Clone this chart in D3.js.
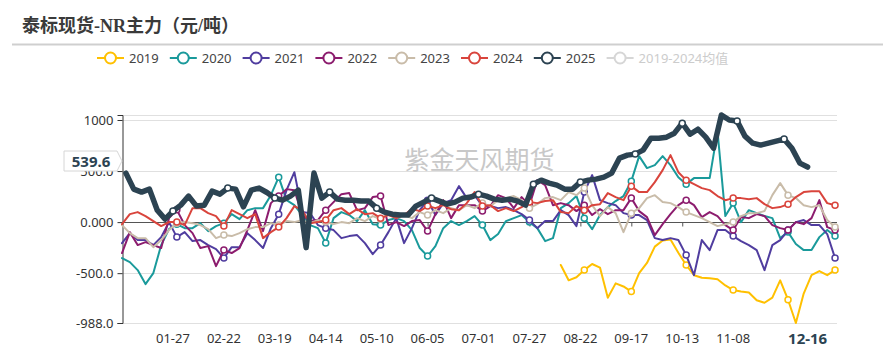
<!DOCTYPE html>
<html><head><meta charset="utf-8">
<script src="https://cdn.jsdelivr.net/npm/d3@7/dist/d3.min.js"></script>
<style>body{margin:0;background:#fff;} svg{display:block;}</style>
</head><body>
<svg id="chart" width="883" height="352"></svg>
<script>
(function(){
const title = "泰标现货-NR主力（元/吨）";
const watermark = "紫金天风期货";
const legendNames = ["2019","2020","2021","2022","2023","2024","2025","2019-2024均值"];
const colors = ["#ffc000","#1a9a9b","#503d9f","#8c1c6e","#c9bca9","#d9443c","#2c4352","#d6d6d6"];
const tickLabels = ["01-27","02-22","03-19","04-14","05-10","06-05","07-01","07-27","08-22","09-17","10-13","11-08"];
const yTickValues = [1000, 500, 0, -500, -988];
const yTickLabels = ["1000","500.0","0.000","-500.0","-988.0"];
const yMin = -988, yMax = 1049;
const pointerDate = "12-16", pointerValue = 539.6;
const step = 4;

const start2019 = "08-12";
const v2019 = [-420,-570,-540,-470,-410,-445,-740,-600,-630,-680,-500,-400,-240,-180,-170,-300,-420,-520,-545,-550,-560,-620,-665,-680,-690,-765,-790,-740,-570,-760,-988,-700,-520,-480,-520,-470];
const start2020 = "01-01";
const v2020 = [-352,-392,-470,-607,-499,-225,-69,-20,-59,-59,-10,-88,-39,-10,78,29,117,137,137,264,440,215,166,69,-29,-59,-205,39,98,69,10,117,-20,-29,20,39,10,-78,-254,-333,-235,-59,10,-29,10,59,-29,-176,-117,10,39,69,0,-59,-186,-157,137,186,255,39,-69,69,147,206,255,401,646,529,558,646,558,440,372,431,431,431,891,59,186,0,117,88,59,39,-157,-98,-215,-274,-274,-147,-78,-137];
const start2021 = "01-01";
const v2021 = [-206,-108,-176,-176,-225,-147,0,-147,-98,-186,-176,-225,-264,-352,-245,-245,-108,-176,-254,-59,78,313,489,98,88,-29,-59,-78,-157,-137,-127,-206,-313,-225,-98,39,-206,-59,117,215,69,186,215,352,235,264,157,157,137,147,117,78,20,-59,10,10,117,69,-39,294,460,215,186,166,88,69,69,20,-157,-176,-157,-176,-323,-519,-176,-274,-78,-78,-137,-186,-225,-274,-470,-225,-176,-78,0,20,-29,-29,-117,-352];
const start2022 = "01-01";
const v2022 = [-303,-98,-225,-196,-225,-254,39,120,-29,-108,-254,-235,-431,-274,-303,-254,-78,117,-88,186,255,323,313,69,10,20,117,196,274,284,117,137,245,255,-29,0,-39,10,20,-88,78,215,39,166,166,166,108,157,264,235,137,245,166,411,362,166,186,166,108,166,69,127,78,117,117,235,108,49,-127,-20,78,166,215,166,49,98,59,-29,-78,49,39,78,59,-29,-59,-78,0,-20,39,215,-49,-78];
const start2023 = "01-01";
const v2023 = [-29,-108,-157,-157,-245,-176,-78,-10,0,-10,-29,-69,-157,-127,-137,-108,-69,-49,-49,-10,-29,10,0,20,-10,20,0,-20,0,-10,39,10,59,29,78,39,69,39,98,69,117,88,137,117,166,137,186,157,215,235,255,215,137,176,235,245,215,294,264,333,166,59,147,88,-98,88,137,235,264,196,186,147,98,69,39,0,-39,-20,0,59,88,88,108,264,382,264,235,166,147,166,20,-49];
const start2024 = "01-01";
const v2024 = [-20,78,98,59,10,-39,0,0,-29,137,137,88,59,-39,117,78,39,78,-157,-98,-49,39,157,117,-10,0,20,117,137,78,127,78,88,39,69,39,69,127,108,157,137,166,127,117,186,294,157,166,108,137,108,147,196,186,206,215,98,88,157,117,166,176,284,245,215,352,294,294,392,509,656,489,411,372,333,313,255,215,235,235,225,235,176,137,147,176,245,294,303,303,186,166];
const start2025 = "01-03";
const v2025 = [480,323,294,323,117,29,108,166,255,157,166,303,274,333,323,150,313,333,290,235,215,255,313,-250,480,235,294,225,215,215,206,206,137,98,78,69,69,157,196,235,206,176,196,235,245,274,255,225,215,225,206,166,372,411,382,362,323,323,392,411,421,440,480,627,656,666,705,822,822,832,871,969,861,910,832,724,1049,1000,990,842,773,754,773,793,813,724,578,539.6];

const seriesList = [
  {name:"2019", start:start2019, values:v2019, color:colors[0], width:2},
  {name:"2020", start:start2020, values:v2020, color:colors[1], width:2},
  {name:"2021", start:start2021, values:v2021, color:colors[2], width:2},
  {name:"2022", start:start2022, values:v2022, color:colors[3], width:2},
  {name:"2023", start:start2023, values:v2023, color:colors[4], width:2},
  {name:"2024", start:start2024, values:v2024, color:colors[5], width:2},
  {name:"2025", start:start2025, values:v2025, color:colors[6], width:5.5}
];

// category axis: all month-day labels of a leap year
const fmt = d3.timeFormat("%m-%d");
const categories = d3.timeDay.range(new Date(2024,0,1), new Date(2025,0,1)).map(fmt);

const svg = d3.select("#chart");
const pLeft = 122, pRight = 837, pTop = 115, pBottom = 323;
const x = d3.scalePoint().domain(categories).range([pLeft, pRight]);
const y = d3.scaleLinear().domain([yMin, yMax]).range([pBottom, pTop]);

const font = "'Noto Sans','Noto Sans CJK SC',sans-serif";

// title
svg.append("text").attr("x", 22).attr("y", 32)
  .attr("font-family", "'Liberation Serif','Noto Sans CJK SC',serif")
  .attr("font-weight", "bold").attr("font-size", 18).attr("fill", "#3a3a3a")
  .text(title);
svg.append("line").attr("x1", 12).attr("x2", 883).attr("y1", 44.5).attr("y2", 44.5)
  .attr("stroke", "#cfcfcf").attr("stroke-width", 2);

// legend
const lg = svg.append("g");
legendNames.forEach((n, i) => {
  const gx = 97 + i * 72.8, gy = 58;
  const c = colors[i];
  const g = lg.append("g");
  g.append("line").attr("x1", gx).attr("x2", gx + 27).attr("y1", gy).attr("y2", gy)
    .attr("stroke", c).attr("stroke-width", 2);
  g.append("circle").attr("cx", gx + 13.5).attr("cy", gy).attr("r", 5.5)
    .attr("fill", "#fff").attr("stroke", c).attr("stroke-width", 2);
  g.append("text").attr("x", gx + 32).attr("y", gy + 4.5)
    .attr("font-family", font).attr("font-size", 13)
    .attr("fill", i === 7 ? "#cccccc" : "#444").text(n);
});

// grid
const grid = svg.append("g");
[yMax, ...yTickValues.filter(v => v !== 0)].forEach(v => {
  grid.append("line").attr("x1", pLeft).attr("x2", pRight)
    .attr("y1", Math.round(y(v)) + 0.5).attr("y2", Math.round(y(v)) + 0.5)
    .attr("stroke", "#e0e0e0").attr("stroke-width", 1);
});

// watermark
svg.append("text").attr("x", (pLeft + pRight) / 2).attr("y", 169)
  .attr("text-anchor", "middle").attr("font-family", "'Noto Sans CJK SC',sans-serif")
  .attr("font-size", 25).attr("fill", "#c8c8c8").text(watermark);

// y axis
const yAxis = d3.axisLeft(y).tickValues(yTickValues)
  .tickFormat((d, i) => yTickLabels[i]).tickSize(5).tickPadding(4);
const yg = svg.append("g").attr("transform", `translate(${pLeft + 0.5},0)`).call(yAxis);
yg.select(".domain").attr("stroke", "#333");
yg.selectAll(".tick line").attr("stroke", "#333");
yg.selectAll(".tick text").attr("font-family", font).attr("font-size", 13).attr("fill", "#333");

// x axis line at zero with ticks
const zeroY = Math.round(y(0)) + 0.5;
const xAxis = d3.axisBottom(x).tickValues(tickLabels).tickSize(4).tickFormat(() => "");
const xg = svg.append("g").attr("transform", `translate(0,${zeroY})`).call(xAxis);
xg.select(".domain").attr("stroke", "#555").attr("d", `M${pLeft},0H${pRight}`);
xg.selectAll(".tick line").attr("stroke", "#555");

// x tick labels at bottom
svg.append("g").selectAll("text").data(tickLabels).join("text")
  .attr("x", d => x(d)).attr("y", 343).attr("text-anchor", "middle")
  .attr("font-family", font).attr("font-size", 13).attr("fill", "#333").text(d => d);

// series
const tickIdx = d3.range(26, 366, 26);
seriesList.forEach(s => {
  const s0 = categories.indexOf(s.start);
  const pts = s.values.map((v, j) => ({cat: categories[s0 + j * step], v}));
  const line = d3.line().x(d => x(d.cat)).y(d => y(d.v));
  svg.append("path").datum(pts).attr("d", line)
    .attr("fill", "none").attr("stroke", s.color).attr("stroke-width", s.width)
    .attr("stroke-linejoin", "round").attr("stroke-linecap", "round");
  const marks = [];
  tickIdx.forEach(t => {
    const j = Math.round((t - s0) / step);
    if (j >= 0 && j < pts.length && Math.abs(s0 + j * step - t) <= 2) marks.push(pts[j]);
  });
  svg.append("g").selectAll("circle").data(marks).join("circle")
    .attr("cx", d => x(d.cat)).attr("cy", d => y(d.v)).attr("r", 3)
    .attr("fill", "#fff").attr("stroke", s.color).attr("stroke-width", 1.5);
});

// axis pointer labels
const py = y(pointerValue) - 6;
const box = svg.append("g");
box.append("path")
  .attr("d", `M64,${py - 10}H117L122,${py}L117,${py + 10}H64Z`)
  .attr("fill", "#fff").attr("stroke", "#d6d6d6").attr("stroke-width", 1);
box.append("text").attr("x", 91).attr("y", py + 5.5).attr("text-anchor", "middle")
  .attr("font-family", font).attr("font-weight", "bold").attr("font-size", 15)
  .attr("fill", colors[6]).text(pointerValue.toFixed(1));
svg.append("text").attr("x", x(pointerDate)).attr("y", 344).attr("text-anchor", "middle")
  .attr("font-family", font).attr("font-weight", "bold").attr("font-size", 15)
  .attr("fill", colors[6]).text(pointerDate);
})();
</script>
</body></html>
